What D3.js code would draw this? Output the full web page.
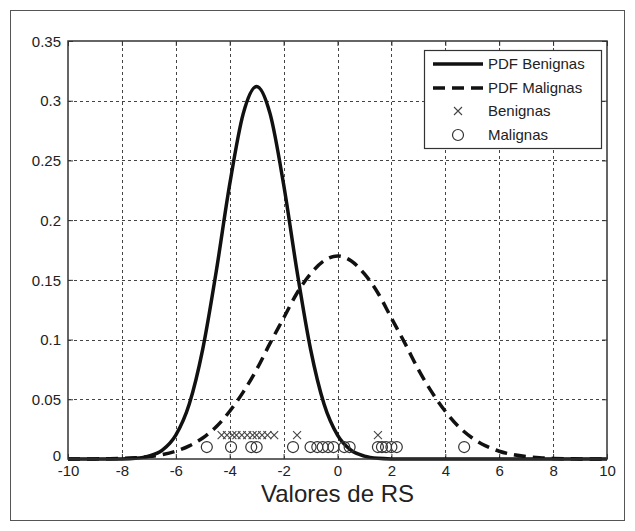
<!DOCTYPE html>
<html><head><meta charset="utf-8">
<script src="https://cdn.jsdelivr.net/npm/d3@7"></script>
<style>
body{margin:0;background:#fff;}
text{font-family:"Liberation Sans",Arial,sans-serif;fill:#222;}
</style></head>
<body><svg id="c" width="635" height="531"></svg>
<script>
// ---- data ----
const pdfX = [-10,-9.5,-9,-8.5,-8,-7.5,-7,-6.5,-6,-5.5,-5,-4.5,-4,-3.5,-3,-2.5,-2,-1.5,-1,-0.5,0,0.5,1,1.5,2,2.5,3,3.5,4,4.5,5,5.5,6,6.5,7,7.5,8,8.5,9,9.5,10];
const pdfBenignas = [0,0,0,0,0.0001,0.0006,0.0024,0.0074,0.020,0.046,0.092,0.157,0.230,0.289,0.312,0.289,0.230,0.157,0.092,0.046,0.020,0.0074,0.0024,0.0006,0.0001,0,0,0,0,0,0,0,0,0,0,0,0,0,0,0,0];
const pdfMalignas = [0,0,0.0001,0.0002,0.0005,0.001,0.002,0.0037,0.0065,0.011,0.0176,0.027,0.040,0.056,0.075,0.097,0.118,0.139,0.155,0.166,0.170,0.166,0.155,0.139,0.118,0.097,0.075,0.056,0.040,0.027,0.0176,0.011,0.0065,0.0037,0.002,0.001,0.0005,0.0002,0.0001,0,0];
const benignasX = [-4.3,-4.1,-3.9,-3.75,-3.55,-3.35,-3.15,-3.0,-2.8,-2.6,-2.35,-1.5,1.5];
const benignasY = 0.02;
const malignasX = [-4.85,-3.95,-3.2,-3.0,-1.65,-1.0,-0.75,-0.55,-0.35,-0.15,0.25,0.45,1.5,1.65,1.8,2.0,2.2,4.7];
const malignasY = 0.01;
const xTicks = [-10,-8,-6,-4,-2,0,2,4,6,8,10];
const yTicks = [0,0.05,0.1,0.15,0.2,0.25,0.3,0.35];
const legendLabels = ["PDF Benignas","PDF Malignas","Benignas","Malignas"];
const xLabel = "Valores de RS";

// ---- layout ----
const svg = d3.select("#c");
const L=68, R=607, T=41, B=459;
const x = d3.scaleLinear().domain([-10,10]).range([L,R]);
const y = d3.scaleLinear().domain([0,0.35]).range([B,T]);

// outer frame
svg.append("rect").attr("x",10.5).attr("y",10.5).attr("width",614).attr("height",510)
  .attr("fill","none").attr("stroke","#555").attr("stroke-width",1);

// grid
const grid = svg.append("g").attr("stroke","#444").attr("stroke-width",1).attr("stroke-dasharray","3,3");
xTicks.slice(1,-1).forEach(t=>{
  grid.append("line").attr("x1",Math.round(x(t))+0.5).attr("x2",Math.round(x(t))+0.5).attr("y1",B).attr("y2",T);
});
yTicks.slice(1,-1).forEach(t=>{
  grid.append("line").attr("y1",Math.round(y(t))+0.5).attr("y2",Math.round(y(t))+0.5).attr("x1",L).attr("x2",R);
});

// axes (ticks inward, MATLAB style)
const fs = "15px";
const ax = svg.append("g").attr("transform",`translate(0,${B})`)
  .call(d3.axisBottom(x).tickValues(xTicks).tickSize(-5).tickPadding(6).tickFormat(d=>String(d)));
const axT = svg.append("g").attr("transform",`translate(0,${T})`)
  .call(d3.axisTop(x).tickValues(xTicks).tickSize(-5).tickFormat(""));
const ay = svg.append("g").attr("transform",`translate(${L},0)`)
  .call(d3.axisLeft(y).tickValues(yTicks).tickSize(-5).tickPadding(7).tickFormat(d=>String(d)));
const ayR = svg.append("g").attr("transform",`translate(${R},0)`)
  .call(d3.axisRight(y).tickValues(yTicks).tickSize(-5).tickFormat(""));
[ax,axT,ay,ayR].forEach(g=>{
  g.select(".domain").remove();
  g.selectAll("line").attr("stroke","#333").attr("stroke-width",1);
  g.selectAll("text").attr("font-size",fs).attr("fill","#222").attr("font-family","Liberation Sans, Arial, sans-serif");
});
ay.selectAll("text").attr("dy","0.35em");
ay.selectAll(".tick").filter(d=>d===0).select("text").attr("dy","0.1em");

// curves
const line = d3.line().x((d,i)=>x(pdfX[i])).y(d=>y(d)).curve(d3.curveMonotoneX);
svg.append("path").datum(pdfMalignas).attr("d",line).attr("fill","none")
  .attr("stroke","#111").attr("stroke-width",3.5).attr("stroke-dasharray","12,7");
svg.append("path").datum(pdfBenignas).attr("d",line).attr("fill","none")
  .attr("stroke","#111").attr("stroke-width",3.5);

// markers
const xm = (g,cx,cy,s)=>{
  g.append("path").attr("d",`M${cx-s},${cy-s}L${cx+s},${cy+s}M${cx-s},${cy+s}L${cx+s},${cy-s}`)
   .attr("stroke","#444").attr("stroke-width",1.1).attr("fill","none");
};
const mk = svg.append("g");
malignasX.forEach(v=>{
  mk.append("circle").attr("cx",x(v)).attr("cy",y(malignasY)).attr("r",5.5)
    .attr("fill","none").attr("stroke","#333").attr("stroke-width",1.2);
});
benignasX.forEach(v=>xm(mk,x(v),y(benignasY),4));

// axes box
svg.append("rect").attr("x",L).attr("y",T).attr("width",R-L).attr("height",B-T)
  .attr("fill","none").attr("stroke","#333").attr("stroke-width",1.5);

// x label
svg.append("text").attr("x",(L+R)/2).attr("y",502).attr("text-anchor","middle")
  .attr("font-size","24px").text(xLabel);

// legend
const lg = svg.append("g");
lg.append("rect").attr("x",424.5).attr("y",50.5).attr("width",177).attr("height",98)
  .attr("fill","#fff").attr("stroke","#333").attr("stroke-width",1.2);
const rows = [64,88,111,135];
lg.append("line").attr("x1",433).attr("x2",483).attr("y1",rows[0]).attr("y2",rows[0])
  .attr("stroke","#111").attr("stroke-width",3.5);
lg.append("line").attr("x1",433).attr("x2",483).attr("y1",rows[1]).attr("y2",rows[1])
  .attr("stroke","#111").attr("stroke-width",3.5).attr("stroke-dasharray","12,7");
xm(lg,458,rows[2],4);
lg.append("circle").attr("cx",458).attr("cy",rows[3]).attr("r",5.5).attr("fill","none")
  .attr("stroke","#333").attr("stroke-width",1.2);
legendLabels.forEach((t,i)=>{
  lg.append("text").attr("x",488).attr("y",rows[i]).attr("dy","0.36em").attr("font-size","15px").text(t);
});
</script></body></html>
